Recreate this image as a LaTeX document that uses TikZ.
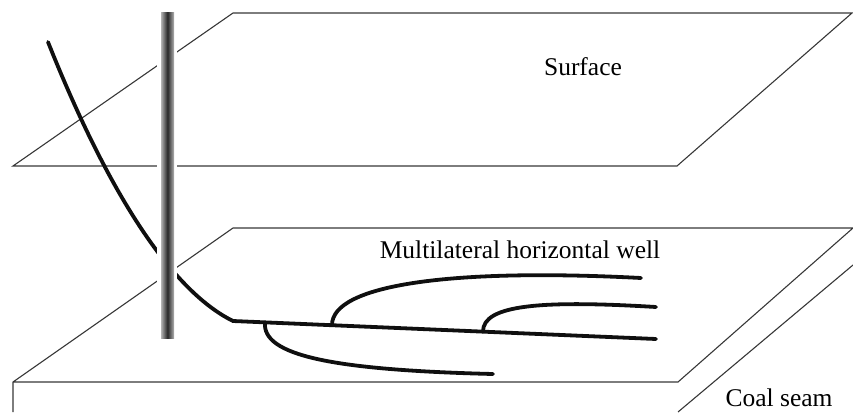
\documentclass[tikz,border=0pt]{standalone}
\usepackage{fontspec}
\setmainfont{Liberation Serif}
\definecolor{PlaneGray}{RGB}{55,55,55}
\definecolor{WellBlack}{RGB}{15,15,15}

\begin{document}
\begin{tikzpicture}[x=1pt,y=-1pt,
    plane/.style={line width=1.1pt,PlaneGray},
    well/.style={line width=3.8pt,WellBlack,line cap=round},
    lbl/.style={font=\fontsize{25.5}{30}\selectfont,inner sep=0pt,anchor=base}]
  \useasboundingbox (0,0) rectangle (853,412);
  % surface plane
  \coordinate (S1) at (13,166);
  \coordinate (S2) at (233,13);
  \coordinate (S3) at (852,13);
  \coordinate (S4) at (677,166);
  \draw[plane] (S1)--(S2)--(S3)--(S4)--cycle;
  % coal seam block
  \coordinate (C1) at (13,382);
  \coordinate (C2) at (233,228);
  \coordinate (C3) at (853,228);
  \coordinate (C4) at (678,382);
  \draw[plane] (13,412)--(C1)--(C2)--(C3)--(C4)--(C1);
  \draw[plane] (678,412)--(853,265);
  % deviated well down to the seam, then the main lateral
  \coordinate (W0) at (48,42);
  \coordinate (K) at (233,321);
  \coordinate (W1) at (656,339);
  \draw[well] (W0) .. controls (95,160) and (160,285) .. (K) -- (W1);
  % branches off the main lateral
  \draw[well] (332,325) .. controls (332,285) and (450,268) .. (641,278);
  \draw[well] (483,331.5) .. controls (483,305) and (540,300) .. (656,307);
  \draw[well] (265,322.5) .. controls (262,355) and (330,370) .. (493,374);
  % vertical well, cut out of everything behind it
  \fill[white] (157,13) rectangle (177,338);
  \shade[left color=black!30,right color=black!30,middle color=black!85] (161,13) rectangle (174,338);
  \node[lbl] (surface) at (583,75) {Surface};
  \node[lbl] (mlw) at (520,258) {Multilateral horizontal well};
  \node[lbl] (seam) at (779,406) {Coal seam};
\end{tikzpicture}
\end{document}
